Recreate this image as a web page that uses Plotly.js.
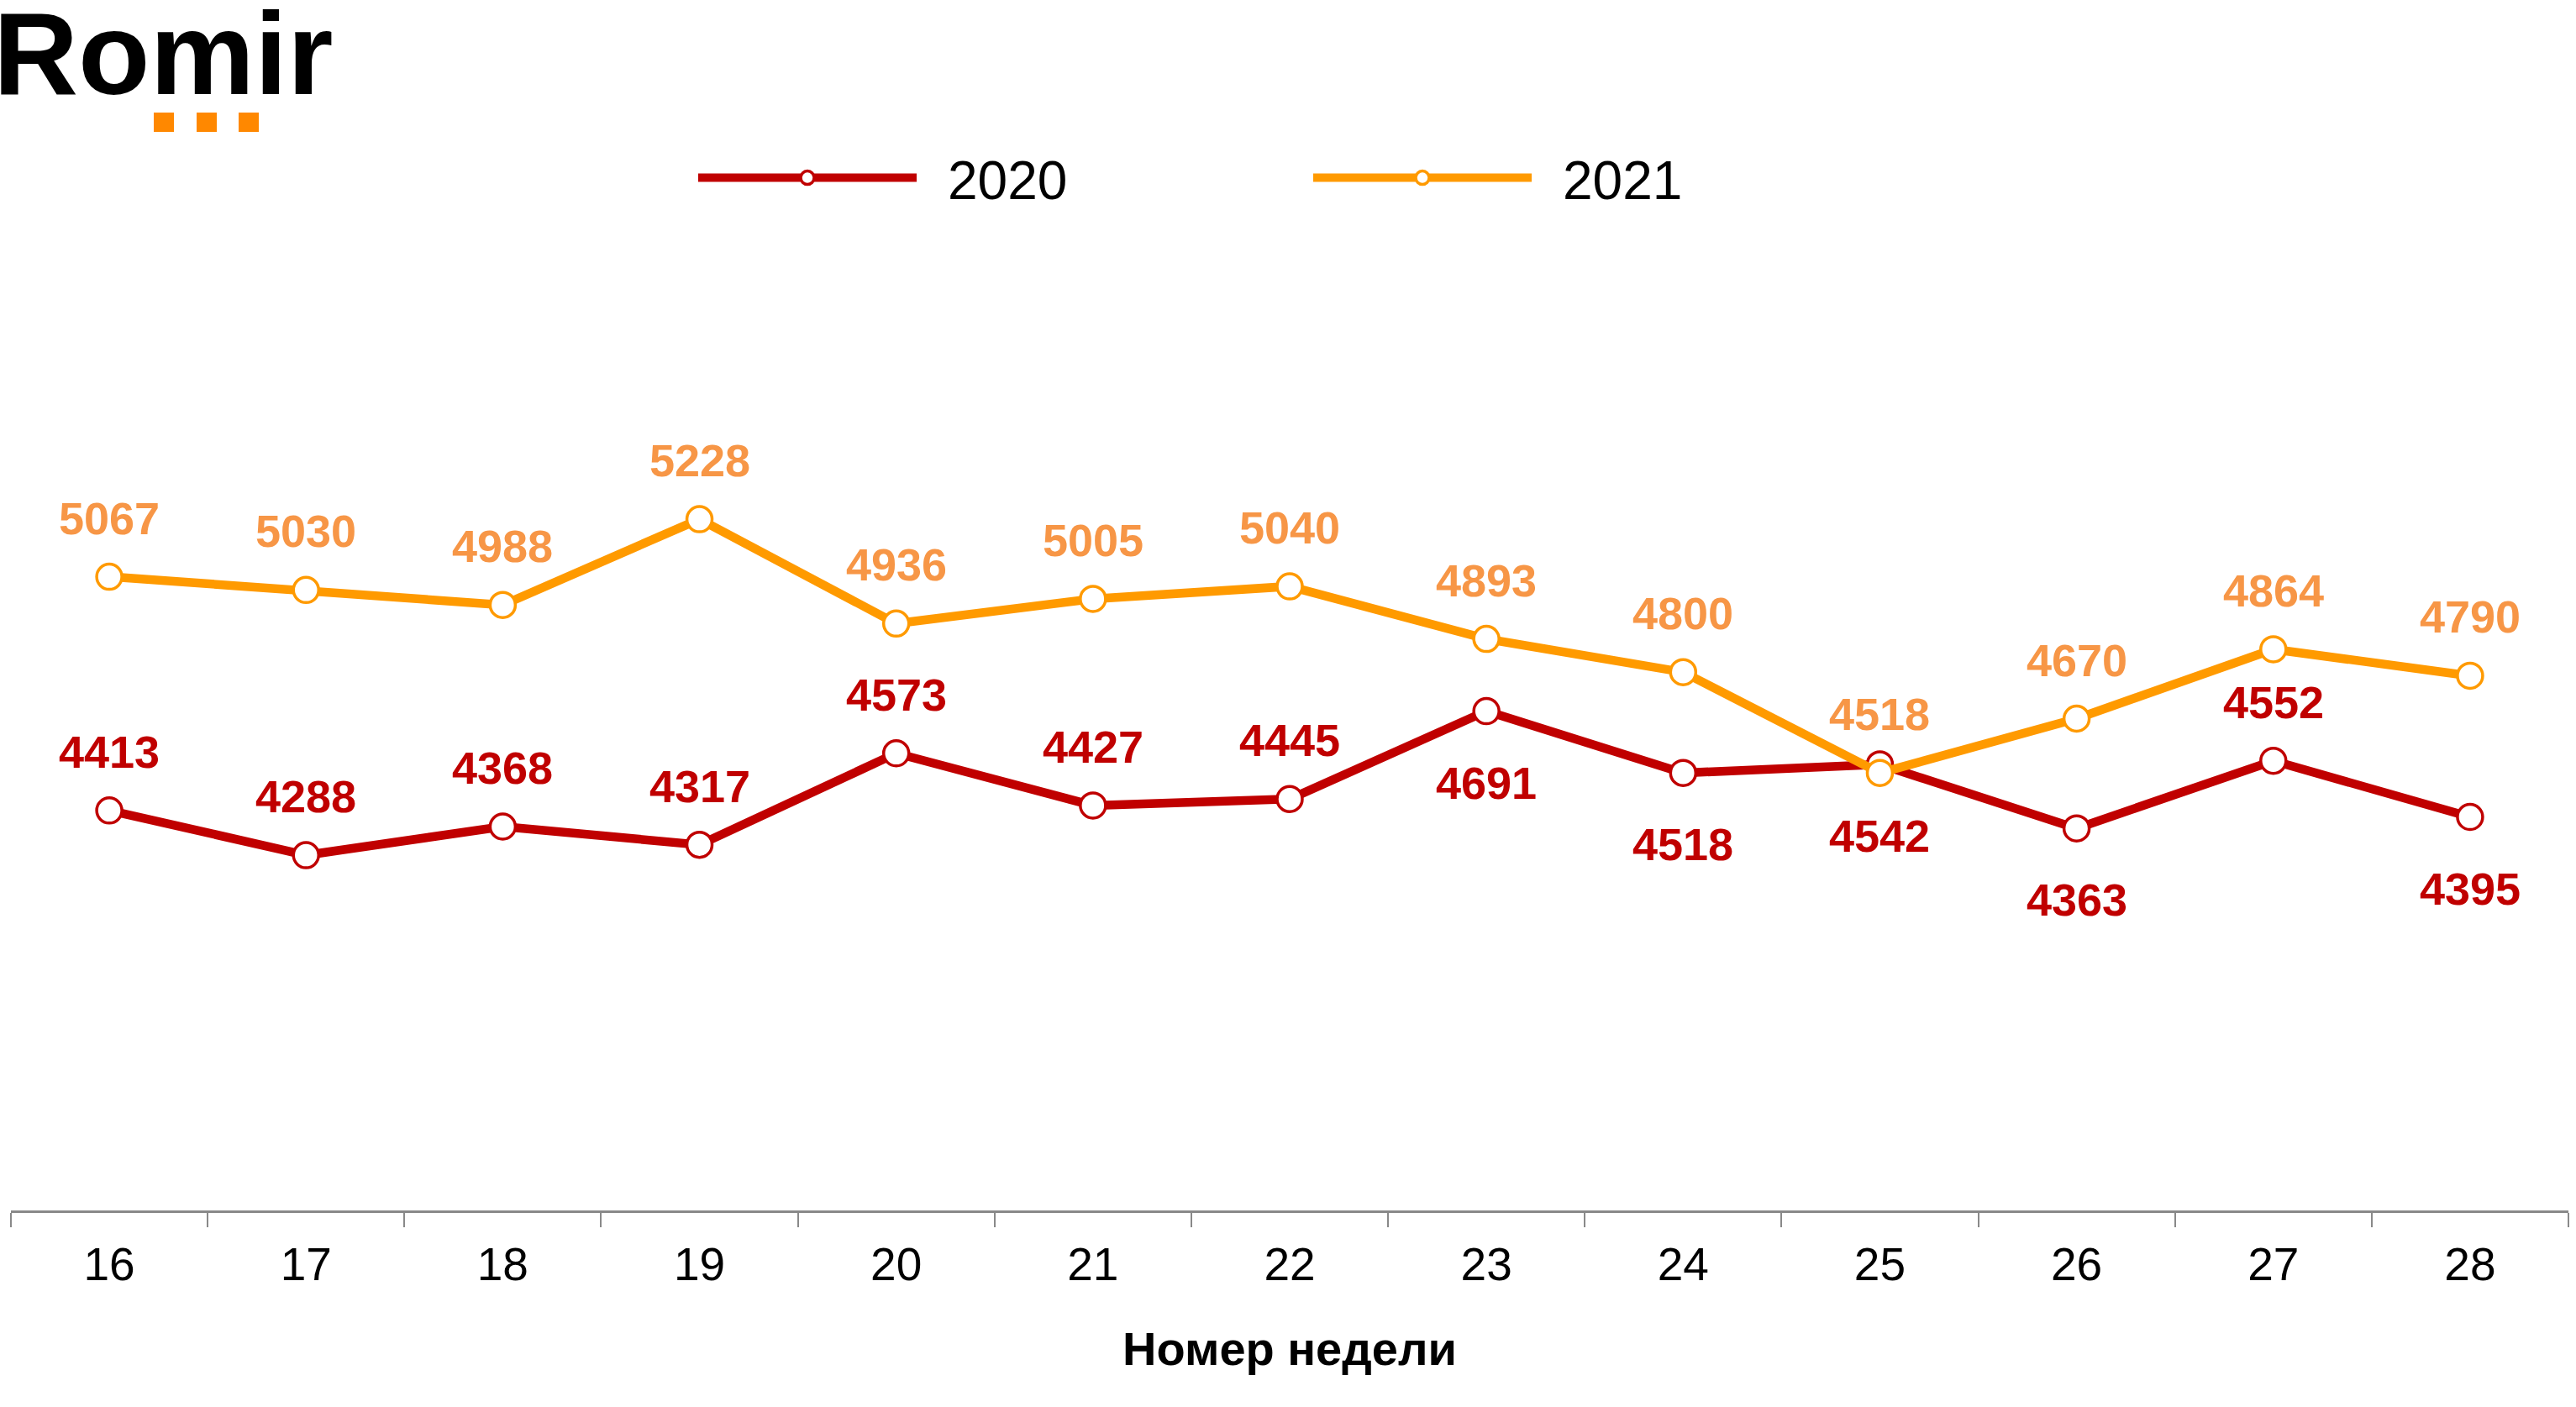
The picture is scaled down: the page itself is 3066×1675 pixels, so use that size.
<!DOCTYPE html>
<html>
<head>
<meta charset="utf-8">
<script src="https://cdn.plot.ly/plotly-3.0.1.min.js"></script>
<style>
html,body{margin:0;padding:0;background:#fff;overflow:hidden;}
#chart{width:3066px;height:1675px;}
</style>
</head>
<body>
<div id="chart"></div>
<script>
// ---- data ----
var weeks = ['16','17','18','19','20','21','22','23','24','25','26','27','28'];
var values2020 = [4413, 4288, 4368, 4317, 4573, 4427, 4445, 4691, 4518, 4542, 4363, 4552, 4395];
var values2021 = [5067, 5030, 4988, 5228, 4936, 5005, 5040, 4893, 4800, 4518, 4670, 4864, 4790];
var labelSide2020 = ['above','above','above','above','above','above','above','below','below','below','below','above','below'];
var labelSide2021 = ['above','above','above','above','above','above','above','above','above','above','above','above','above'];
var seriesNames = ['2020', '2021'];
var axisTitle = 'Номер недели';
var logoText = 'Romir';

// ---- styling ----
var FONT = '"Liberation Sans", Arial, sans-serif';
var RED = '#C00000';
var ORANGE = '#FF9A00';
var ORANGE_LABEL = '#F79646';
var W = 3066, H = 1675;
var M = {l: 13, r: 9, t: 250, b: 234};
var plotH = H - M.t - M.b, plotW = W - M.l - M.r;
function px2paperX(px){ return (px - M.l) / plotW; }
function px2paperY(py){ return (H - M.b - py) / plotH; }

function series(name, vals, color, legendId) {
  return {
    type: 'scatter', mode: 'lines+markers', name: '\u2002' + name,
    x: weeks, y: vals, legend: legendId,
    line: {color: color, width: 10.5},
    marker: {size: 30, color: '#ffffff', line: {color: color, width: 3.5}},
    hoverinfo: 'x+y', cliponaxis: false
  };
}

var traces = [
  series(seriesNames[0], values2020, RED, 'legend'),
  series(seriesNames[1], values2021, ORANGE, 'legend2')
];

var annotations = [];
function addLabels(vals, sides, color) {
  for (var i = 0; i < vals.length; i++) {
    annotations.push({
      x: i, y: vals[i], xref: 'x', yref: 'y',
      text: '<b>' + vals[i] + '</b>', showarrow: false,
      xanchor: 'center', yanchor: 'middle',
      yshift: sides[i] === 'above' ? 70 : -85,
      font: {family: FONT, size: 54, color: color}
    });
  }
}
addLabels(values2020, labelSide2020, RED);
addLabels(values2021, labelSide2021, ORANGE_LABEL);

// logo
annotations.push({
  xref: 'paper', yref: 'paper', x: px2paperX(-9), y: px2paperY(-16),
  xanchor: 'left', yanchor: 'top', showarrow: false, borderpad: 0,
  text: '<b>' + logoText + '</b>',
  font: {family: FONT, size: 140, color: '#000000'}
});

var shapes = [];
[183, 234, 284].forEach(function (sx) {
  shapes.push({
    type: 'rect', xref: 'paper', yref: 'paper',
    x0: px2paperX(sx), x1: px2paperX(sx + 24),
    y0: px2paperY(157), y1: px2paperY(134),
    fillcolor: '#FF8800', line: {width: 0}
  });
});

var legendCommon = {
  orientation: 'h', xanchor: 'left', yanchor: 'middle',
  font: {family: FONT, size: 64, color: '#000000'},
  bgcolor: 'rgba(0,0,0,0)', itemwidth: 260, itemsizing: 'trace',
  tracegroupgap: 0
};

var layout = {
  width: W, height: H,
  margin: M,
  paper_bgcolor: '#ffffff', plot_bgcolor: '#ffffff',
  showlegend: true,
  legend: Object.assign({}, legendCommon, {x: px2paperX(826), y: px2paperY(212)}),
  legend2: Object.assign({}, legendCommon, {x: px2paperX(1558), y: px2paperY(212)}),
  xaxis: {
    type: 'category', range: [-0.5, 12.5],
    tickson: 'boundaries', ticks: 'outside', ticklen: 17, tickwidth: 2, tickcolor: '#898989',
    showline: true, linecolor: '#898989', linewidth: 3,
    showgrid: false, zeroline: false, ticklabelstandoff: 14,
    tickfont: {family: FONT, size: 55, color: '#000000'},
    title: {text: '<b>' + axisTitle + '</b>', standoff: 51, font: {family: FONT, size: 56, color: '#000000'}}
  },
  yaxis: {
    range: [3294, 6093], showticklabels: false, showline: false, ticks: '',
    showgrid: false, zeroline: false, fixedrange: true
  },
  annotations: annotations,
  shapes: shapes
};

Plotly.newPlot('chart', traces, layout, {displayModeBar: false, staticPlot: true});
</script>
</body>
</html>
